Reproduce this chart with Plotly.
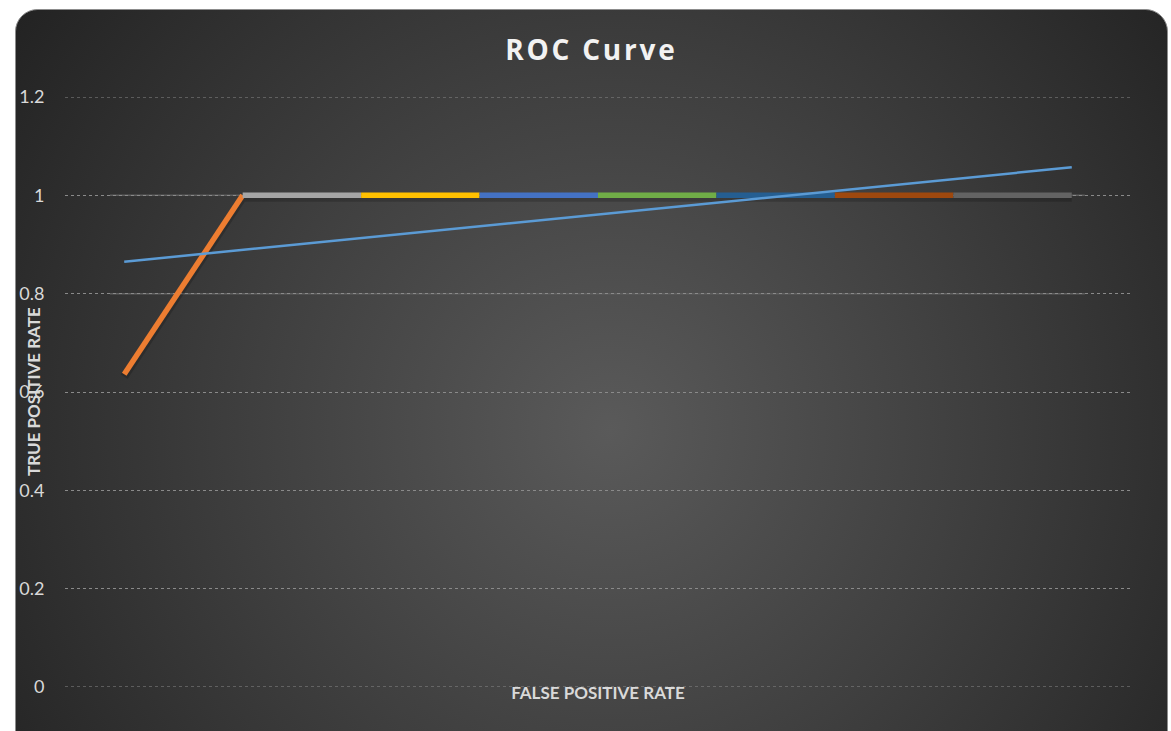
import base64
import plotly.graph_objects as go

# ---- data ----
fpr_positions = [0, 1, 2, 3, 4, 5, 6, 7, 8]
tpr_values = [0.636, 1, 1, 1, 1, 1, 1, 1, 1]
segment_colors = ["#ED7D31", "#A5A5A5", "#FFC000", "#4472C4",
                  "#70AD47", "#255E91", "#9E480E", "#636363"]
trend_x = [0, 8]
trend_y = [0.865, 1.057]
y_ticks = [0, 0.2, 0.4, 0.6, 0.8, 1, 1.2]
y_tick_labels = ["0", "0.2", "0.4", "0.6", "0.8", "1", "1.2"]
solid_ref_levels = [0.8, 1.0]

W, H = 1171, 731
L, R, T, B = 65, 40, 97, 44
PW, PH = W - L - R, H - T - B
Y_RANGE = [0, 1.2]
px_per_unit = PH / (Y_RANGE[1] - Y_RANGE[0])

svg = f'''<svg xmlns="http://www.w3.org/2000/svg" width="{W}" height="{H}" viewBox="0 0 {W} {H}">
<defs>
<radialGradient id="g" cx="610" cy="430" r="720" gradientUnits="userSpaceOnUse">
<stop offset="0" stop-color="#5a5a5a"/>
<stop offset="0.5" stop-color="#3f3f3f"/>
<stop offset="1" stop-color="#232323"/>
</radialGradient>
</defs>
<rect x="0" y="0" width="{W}" height="{H}" fill="#ffffff"/>
<rect x="15.5" y="9.5" width="1152" height="760" rx="22" ry="22" fill="url(#g)" stroke="#8c8c8c" stroke-width="1"/>
</svg>'''
bg_uri = "data:image/svg+xml;base64," + base64.b64encode(svg.encode()).decode()

fig = go.Figure()

# soft shadow under the main series (offset a few pixels down)
shadow_off = 2.5 / px_per_unit
fig.add_trace(go.Scatter(
    x=fpr_positions, y=[v - shadow_off for v in tpr_values], mode="lines",
    line=dict(color="rgba(0,0,0,0.18)", width=8), showlegend=False, hoverinfo="skip"))

# segments
for i, c in enumerate(segment_colors):
    fig.add_trace(go.Scatter(
        x=fpr_positions[i:i + 2], y=tpr_values[i:i + 2], mode="lines",
        line=dict(color=c, width=5.5), showlegend=False, hoverinfo="skip"))

# trendline
fig.add_trace(go.Scatter(
    x=trend_x, y=trend_y, mode="lines",
    line=dict(color="#5B9BD5", width=2.5), showlegend=False, hoverinfo="skip"))

shapes = []
for lv in solid_ref_levels:
    shapes.append(dict(type="line", xref="x", yref="y", x0=-0.12, x1=8.11,
                       y0=lv, y1=lv, line=dict(color="#5e5e5e", width=1.5),
                       layer="below"))
for lv in (y_ticks[0], y_ticks[-1]):
    shapes.append(dict(type="line", xref="paper", yref="y", x0=0, x1=1,
                       y0=lv, y1=lv, line=dict(color="#8a8a8a", width=1, dash="dot"),
                       layer="below"))

hs = "\u200a"
title_text = "<b>" + hs.join("ROC") + hs + " " + hs + hs.join("Curve") + "</b>"

fig.update_layout(
    width=W, height=H,
    margin=dict(l=L, r=R, t=T, b=B, autoexpand=False),
    paper_bgcolor="#ffffff",
    plot_bgcolor="rgba(0,0,0,0)",
    shapes=shapes,
    images=[dict(source=bg_uri, xref="paper", yref="paper",
                 x=-L / PW, y=1 + T / PH, sizex=W / PW, sizey=H / PH,
                 xanchor="left", yanchor="top", sizing="stretch", layer="below")],
    title=dict(text=title_text, x=590 / W, xanchor="center",
               y=1 - 50 / H, yanchor="middle",
               font=dict(family="Open Sans", size=28, color="#F2F2F2")),
    xaxis=dict(range=[-0.5, 8.5], showticklabels=False, showgrid=False,
               zeroline=False, showline=False, ticks="",
               title=dict(text="<b>FALSE POSITIVE RATE</b>", standoff=0,
                          font=dict(family="Lato", size=17, color="#D9D9D9"))),
    yaxis=dict(range=Y_RANGE, tickvals=y_ticks, ticktext=y_tick_labels,
               showgrid=True, gridcolor="#8a8a8a", griddash="dot", gridwidth=1,
               zeroline=False, showline=False,
               ticks="outside", ticklen=16, tickcolor="rgba(0,0,0,0)",
               tickfont=dict(family="Lato", size=18, color="#D9D9D9")),
    annotations=[dict(text="<b>TRUE POSITIVE RATE</b>", xref="paper", yref="paper",
                      x=(33 - L) / PW, y=(H - B - 392) / PH, xanchor="center",
                      yanchor="middle", textangle=-90, showarrow=False,
                      font=dict(family="Lato", size=17, color="#D9D9D9"))],
)

fig.write_html("out.html")
